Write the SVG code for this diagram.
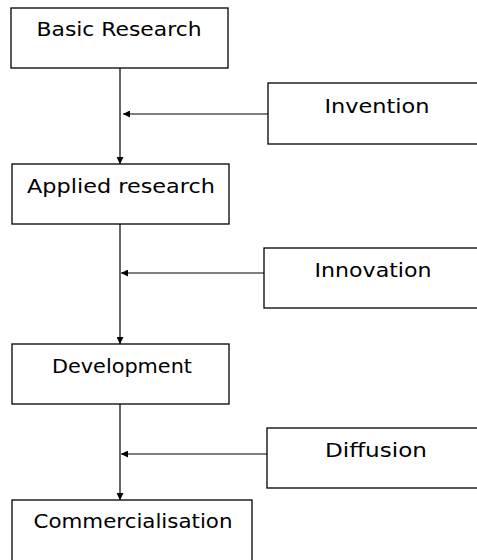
<svg xmlns="http://www.w3.org/2000/svg" width="477" height="560" viewBox="0 0 477 560">
<style>
.box{fill:#fff;stroke:#000;stroke-width:1.3}
.lbl{font-family:"DejaVu Sans","Liberation Sans",sans-serif;font-size:20px;fill:#000;text-anchor:middle}
.con{stroke:#000;stroke-width:1.2;fill:none}
</style>
<defs>
<marker id="ah" viewBox="0 0 10 10" refX="10" refY="5" markerWidth="8" markerHeight="7" markerUnits="userSpaceOnUse" orient="auto">
<path d="M0,0 L10,5 L0,10 Z" fill="#000"/>
</marker>
</defs>
<g id="connectors">
<line class="con" x1="120" y1="68" x2="120" y2="164" marker-end="url(#ah)"/>
<line class="con" x1="268" y1="114" x2="123" y2="114" marker-end="url(#ah)"/>
<line class="con" x1="120" y1="224" x2="120" y2="344" marker-end="url(#ah)"/>
<line class="con" x1="264" y1="273" x2="121" y2="273" marker-end="url(#ah)"/>
<line class="con" x1="120" y1="404" x2="120" y2="500" marker-end="url(#ah)"/>
<line class="con" x1="267" y1="454" x2="121" y2="454" marker-end="url(#ah)"/>
</g>
<g id="basic">
<rect class="box" x="11" y="8" width="217" height="60"/>
<text class="lbl" x="119" y="36" textLength="165" lengthAdjust="spacingAndGlyphs">Basic Research</text>
</g>
<g id="invention">
<rect class="box" x="268" y="83" width="212" height="61"/>
<text class="lbl" x="377" y="113" textLength="105" lengthAdjust="spacingAndGlyphs">Invention</text>
</g>
<g id="applied">
<rect class="box" x="12" y="164" width="217" height="60"/>
<text class="lbl" x="121" y="193" textLength="188" lengthAdjust="spacingAndGlyphs">Applied research</text>
</g>
<g id="innovation">
<rect class="box" x="264" y="248" width="216" height="60"/>
<text class="lbl" x="373" y="277" textLength="117" lengthAdjust="spacingAndGlyphs">Innovation</text>
</g>
<g id="development">
<rect class="box" x="12" y="344" width="217" height="60"/>
<text class="lbl" x="122" y="373" textLength="140" lengthAdjust="spacingAndGlyphs">Development</text>
</g>
<g id="diffusion">
<rect class="box" x="267" y="428" width="213" height="60"/>
<text class="lbl" x="376" y="457" textLength="102" lengthAdjust="spacingAndGlyphs">Diffusion</text>
</g>
<g id="commercialisation">
<rect class="box" x="12" y="500" width="240" height="65"/>
<text class="lbl" x="133" y="528" textLength="199" lengthAdjust="spacingAndGlyphs">Commercialisation</text>
</g>
</svg>
